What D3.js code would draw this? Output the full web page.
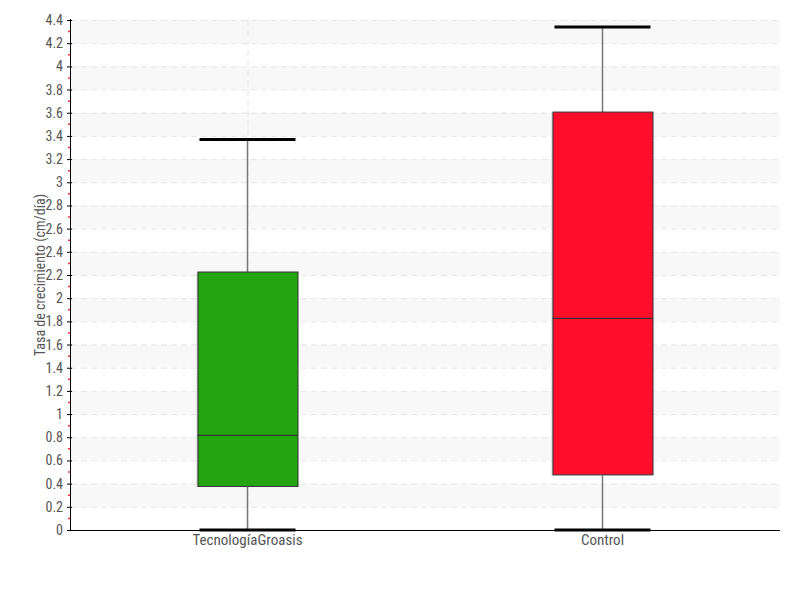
<!DOCTYPE html>
<html><head><meta charset="utf-8">
<script src="https://cdn.jsdelivr.net/npm/d3@7"></script>
<style>
body{margin:0;background:#fff;}
text{font-family:"Liberation Sans Narrow","Roboto Condensed","DejaVu Sans Condensed",sans-serif;fill:#555;}
</style></head>
<body><svg id="c" width="800" height="600"></svg>
<script>
const categories = ["TecnologíaGroasis", "Control"];
const mins = [0, 0];
const q1s = [0.38, 0.48];
const medians = [0.82, 1.83];
const q3s = [2.23, 3.61];
const maxs = [3.37, 4.34];
const colors = ["#22a50f", "#ff0e2a"];
const yTicks = d3.range(0, 4.41, 0.2).map(v => +v.toFixed(1));
const yLabel = "Tasa de crecimiento (cm/día)";

const svg = d3.select("#c");
const L = 70, R = 780, T = 20, B = 530;
const x = d3.scaleBand().domain(categories).range([L, R]).padding(0);
const y = d3.scaleLinear().domain([0, 4.4]).range([B, T]);

// bands
const g = svg.append("g");
for (let i = 0; i < yTicks.length - 1; i++) {
  if (i % 2 === 1) {
    g.append("rect").attr("x", L + 1).attr("width", R - L - 1)
      .attr("y", y(yTicks[i + 1])).attr("height", y(yTicks[i]) - y(yTicks[i + 1]))
      .attr("fill", "#f8f8f8");
  }
}
// horizontal dashed grid
g.selectAll("line.h").data(yTicks.slice(1)).join("line")
  .attr("x1", L + 1).attr("x2", R).attr("y1", d => y(d) + 0.5).attr("y2", d => y(d) + 0.5)
  .attr("stroke", "#e6e6e6").attr("stroke-dasharray", "6,4");
// vertical dashed grid at first category
g.append("line").attr("x1", x(categories[0]) + x.bandwidth() / 2 + 0.5)
  .attr("x2", x(categories[0]) + x.bandwidth() / 2 + 0.5)
  .attr("y1", T).attr("y2", B).attr("stroke", "#e6e6e6").attr("stroke-dasharray", "6,4");

// boxes
const bw = 100, cw = 96;
categories.forEach((c, i) => {
  const cx = x(c) + x.bandwidth() / 2;
  svg.append("line").attr("x1", cx).attr("x2", cx).attr("y1", y(maxs[i])).attr("y2", y(mins[i]))
    .attr("stroke", "#777").attr("stroke-width", 1.5);
  svg.append("rect").attr("x", cx - bw / 2 - 1).attr("y", y(q3s[i]) + 1).attr("width", bw).attr("height", y(q1s[i]) - y(q3s[i]))
    .attr("fill", "#ccc");
  svg.append("rect").attr("x", cx - bw / 2 + 0.5).attr("y", y(q3s[i]) + 0.5).attr("width", bw).attr("height", y(q1s[i]) - y(q3s[i]))
    .attr("fill", colors[i]).attr("stroke", "#333").attr("stroke-width", 1);
  svg.append("line").attr("x1", cx - bw / 2).attr("x2", cx + bw / 2).attr("y1", y(medians[i]) + 0.5).attr("y2", y(medians[i]) + 0.5)
    .attr("stroke", "#333").attr("stroke-width", 1.2);
  [maxs[i], mins[i]].forEach(v => {
    svg.append("line").attr("x1", cx - cw / 2).attr("x2", cx + cw / 2).attr("y1", y(v)).attr("y2", y(v))
      .attr("stroke", "#000").attr("stroke-width", 3);
  });
});

// axes
const ya = svg.append("g").attr("transform", `translate(${L},0)`)
  .call(d3.axisLeft(y).tickValues(yTicks).tickFormat(d => String(d)).tickSize(4).tickPadding(3));
ya.select(".domain").remove();
ya.selectAll(".tick line").attr("stroke", "#000").attr("x2", 2).attr("x1", -3);
ya.selectAll("text").style("font-size", "14px").attr("fill", "#555");
// minor red ticks
svg.selectAll("line.minor").data(d3.range(0.1, 4.4, 0.2)).join("line")
  .attr("x1", L - 2).attr("x2", L).attr("y1", d => y(d)).attr("y2", d => y(d))
  .attr("stroke", "#f33").attr("stroke-width", 1.5);
svg.append("line").attr("x1", L + 0.5).attr("x2", L + 0.5).attr("y1", T - 1).attr("y2", B).attr("stroke", "#000");
svg.append("line").attr("x1", L).attr("x2", R).attr("y1", B + 0.5).attr("y2", B + 0.5).attr("stroke", "#000");

const xa = svg.append("g").attr("transform", `translate(0,${B})`)
  .call(d3.axisBottom(x).tickSize(0).tickPadding(4));
xa.select(".domain").remove();
xa.selectAll("text").style("font-size", "15px").attr("fill", "#555");

svg.append("text").attr("transform", `translate(40,${(T + B) / 2}) rotate(-90)`)
  .attr("text-anchor", "middle").attr("dy", "0.35em").style("font-size", "14px").text(yLabel);
</script></body></html>
